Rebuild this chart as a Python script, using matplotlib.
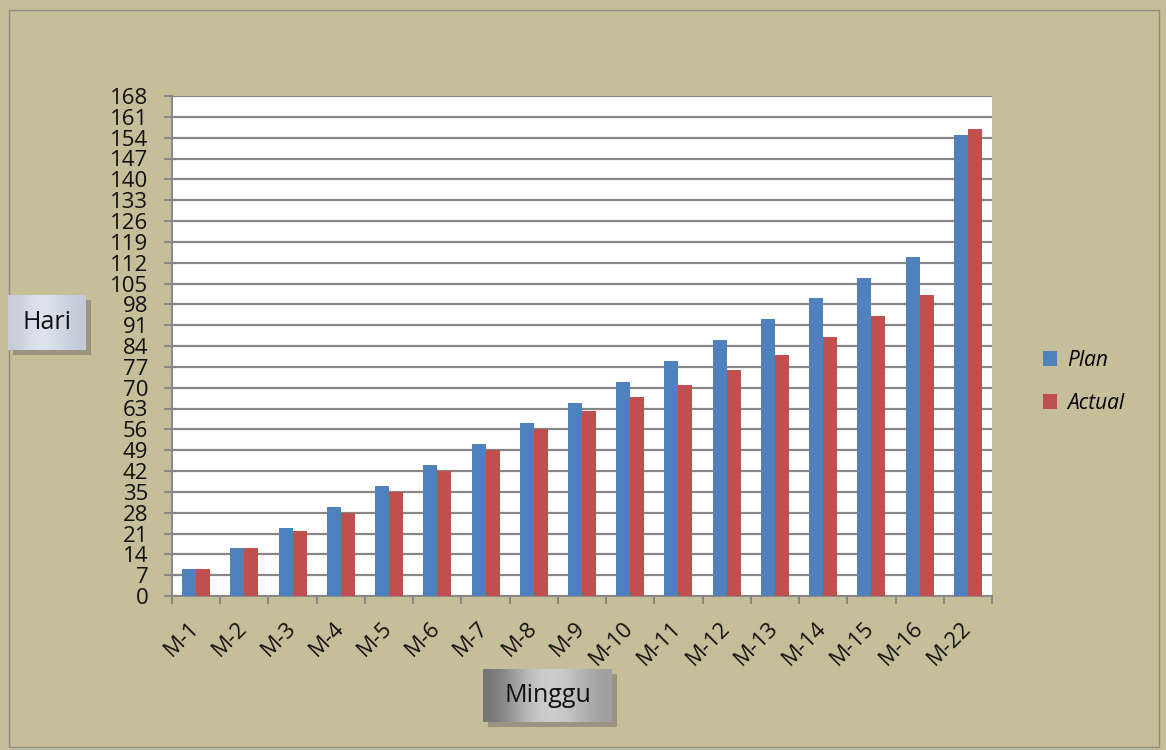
import numpy as np
import matplotlib
matplotlib.use("Agg")
import matplotlib.pyplot as plt
from matplotlib.patches import Rectangle

plt.rcParams["font.family"] = ["Open Sans", "DejaVu Sans"]

minggu = ["M-1", "M-2", "M-3", "M-4", "M-5", "M-6", "M-7", "M-8", "M-9",
          "M-10", "M-11", "M-12", "M-13", "M-14", "M-15", "M-16", "M-22"]
plan = [9, 16, 23, 30, 37, 44, 51, 58, 65, 72, 79, 86, 93, 100, 107, 114, 155]
actual = [9, 16, 22, 28, 35, 42, 49, 56, 62, 67, 71, 76, 81, 87, 94, 101, 157]
yticks = list(range(0, 169, 7))

BG = "#C6BE98"
fig = plt.figure(figsize=(11.66, 7.5), dpi=100, facecolor=BG)
# thin outer frame
fig.patches.append(Rectangle((9 / 1166, 3 / 750), 1150 / 1166, 737 / 750, transform=fig.transFigure,
                             fill=False, ec="#8c8c8c", lw=1))

ax = fig.add_axes([172 / 1166, 1 - 596 / 750, 820 / 1166, 500 / 750])
x = np.arange(len(minggu))
w = 0.29
ax.bar(x - w / 2, plan, w, color="#4F81BD", label="Plan", zorder=3)
ax.bar(x + w / 2, actual, w, color="#C0504D", label="Actual", zorder=3)

ax.set_xlim(-0.5, len(minggu) - 0.5)
ax.set_ylim(0, 168)
ax.set_yticks(yticks)
ax.set_yticklabels([str(v) for v in yticks], fontsize=16, color="#111111")
ax.yaxis.grid(True, color="#878787", lw=1.6, zorder=1)
ax.set_axisbelow(True)
ax.tick_params(axis="y", length=6, width=1.4, color="#878787", pad=11)

ax.set_xticks(x)
ax.set_xticklabels(minggu, rotation=45, ha="right", va="center", rotation_mode="anchor",
                   fontsize=16, color="#111111")
ax.tick_params(axis="x", which="major", length=0, pad=21)
ax.set_xticks(np.arange(-0.5, len(minggu)), minor=True)
ax.tick_params(axis="x", which="minor", length=6, width=1.4, color="#878787")

for s in ["top", "right"]:
    ax.spines[s].set_visible(False)
for s in ["left", "bottom"]:
    ax.spines[s].set_color("#878787")
    ax.spines[s].set_linewidth(1.4)

leg = fig.legend(loc="upper left", bbox_to_anchor=(1024 / 1166, 1 - 331 / 750), frameon=False,
                 prop={"style": "italic", "size": 15}, handlelength=0.7, handleheight=0.7,
                 labelspacing=1.05, handletextpad=0.45)


def label_box(x0, y0, x1, y1, text, cmap_vals, fs):
    sh = fig.add_axes([(x0 + 5) / 1166, 1 - (y1 + 5) / 750, (x1 - x0) / 1166, (y1 - y0) / 750])
    sh.set_facecolor("#9a9480")
    sh.set_xticks([]); sh.set_yticks([])
    for s in sh.spines.values():
        s.set_visible(False)
    sh.set_zorder(5)
    bax = fig.add_axes([x0 / 1166, 1 - y1 / 750, (x1 - x0) / 1166, (y1 - y0) / 750])
    grad = np.array(cmap_vals)[None, :, :]
    bax.imshow(grad, aspect="auto", extent=(0, 1, 0, 1), interpolation="bicubic")
    bax.text(0.5, 0.5, text, ha="center", va="center", fontsize=fs, color="#111111")
    bax.set_axis_off()
    bax.set_zorder(6)


label_box(8, 295, 86, 350, "Hari",
          [(0.78, 0.80, 0.85), (0.88, 0.91, 0.95), (0.84, 0.87, 0.92), (0.76, 0.79, 0.84)], 18)
label_box(483, 669, 612, 722, "Minggu",
          [(0.45, 0.45, 0.45), (0.80, 0.80, 0.80), (0.82, 0.82, 0.82), (0.62, 0.62, 0.62)], 18)

fig.savefig("out.png", dpi=100, facecolor=BG)
